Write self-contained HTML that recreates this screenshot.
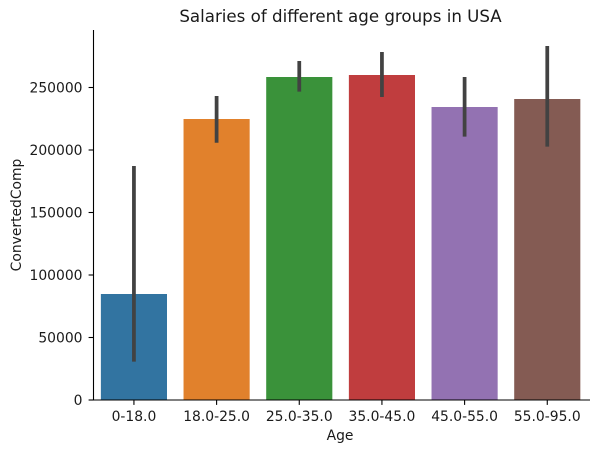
<!DOCTYPE html>
<html lang="en">
<head>
<meta charset="utf-8">
<title>Salaries of different age groups in USA</title>
<style>
  html, body { margin: 0; padding: 0; background: #fff; }
  svg { display: block; font-family: "DejaVu Sans", "Liberation Sans", sans-serif; }
</style>
</head>
<body>
<svg id="chart" xmlns="http://www.w3.org/2000/svg" width="598" height="453" viewBox="0 0 598 453">
  <rect x="0" y="0" width="598" height="453" fill="#ffffff"/>
  <g id="bars"></g>
  <g id="errors"></g>
  <g id="axes"></g>
  <text x="340.5" y="22" text-anchor="middle" font-size="16.67" fill="#1a1a1a">Salaries of different age groups in USA</text>
  <text x="340" y="440" text-anchor="middle" font-size="13.89" fill="#1a1a1a">Age</text>
  <text transform="translate(21 215) rotate(-90)" text-anchor="middle" font-size="13.89" fill="#1a1a1a">ConvertedComp</text>
</svg>
<script>
const categories = ["0-18.0", "18.0-25.0", "25.0-35.0", "35.0-45.0", "45.0-55.0", "55.0-95.0"];
const salaries = [84800, 224800, 258400, 260000, 234400, 240800];
const errorLow = [30700, 205800, 246700, 242400, 210700, 202700];
const errorHigh = [187200, 243200, 271200, 278400, 258400, 283200];
const yTicks = [0, 50000, 100000, 150000, 200000, 250000];
const barColors = ["#3274a1", "#e1812c", "#3a923a", "#c03d3e", "#9372b2", "#845b53"];

const NS = "http://www.w3.org/2000/svg";
const plot = { left: 92.6, right: 588.6, top: 30, bottom: 400, spineX: 93.5, spineEnd: 590 };
const pxPerUnit = 0.00125;
const xStep = (plot.right - plot.left) / categories.length;

function xScale(i) { return plot.left + xStep * (i + 0.5); }
function yScale(v) { return plot.bottom - v * pxPerUnit; }

function make(tag, attrs, parent) {
  const el = document.createElementNS(NS, tag);
  for (const k in attrs) el.setAttribute(k, attrs[k]);
  parent.appendChild(el);
  return el;
}

const barsG = document.getElementById("bars");
const errorsG = document.getElementById("errors");
const axesG = document.getElementById("axes");
const barW = xStep * 0.8;

categories.forEach(function (cat, i) {
  const top = yScale(salaries[i]);
  const bar = make("rect", { x: xScale(i) - barW / 2, y: top, width: barW, height: plot.bottom - top, fill: barColors[i] }, barsG);
  
  

  const err = make("line", { x1: xScale(i), x2: xScale(i), y1: yScale(errorHigh[i]), y2: yScale(errorLow[i]), stroke: "#424242", "stroke-width": 3.75 }, errorsG);
  
  

  const tick = make("line", { x1: xScale(i), x2: xScale(i), y1: plot.bottom, y2: plot.bottom + 4.9, stroke: "#000", "stroke-width": 1.1 }, axesG);
  
  

  const label = make("text", { x: xScale(i), y: 421, "text-anchor": "middle", "font-size": 13.89, fill: "#1a1a1a" }, axesG);
  label.textContent = cat;
  
  
});

yTicks.forEach(function (v) {
  const tick = make("line", { x1: plot.spineX - 4.9, x2: plot.spineX, y1: yScale(v), y2: yScale(v), stroke: "#000", "stroke-width": 1.1 }, axesG);
  
  

  const label = make("text", { x: plot.spineX - 11, y: yScale(v) + 5.2, "text-anchor": "end", "font-size": 13.89, fill: "#1a1a1a" }, axesG);
  label.textContent = String(v);
  
  
});

const ySpine = make("line", { x1: plot.spineX, x2: plot.spineX, y1: plot.top, y2: plot.bottom + 0.55, stroke: "#000", "stroke-width": 1.1 }, axesG);



const xSpine = make("line", { x1: plot.spineX - 0.55, x2: plot.spineEnd, y1: plot.bottom, y2: plot.bottom, stroke: "#000", "stroke-width": 1.1 }, axesG);


</script>
</body>
</html>
